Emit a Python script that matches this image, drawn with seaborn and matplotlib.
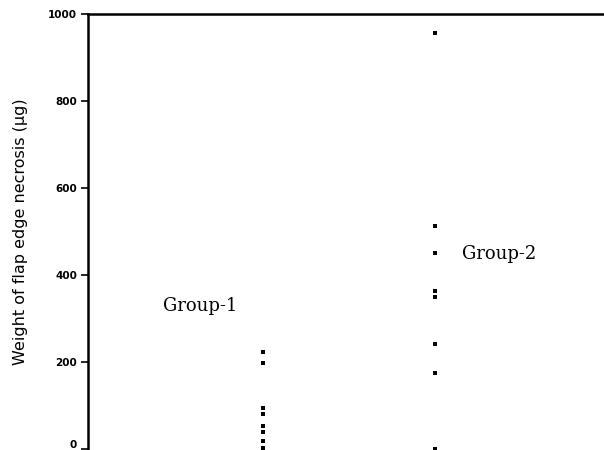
import matplotlib
matplotlib.use("Agg")
import matplotlib.pyplot as plt
import matplotlib.transforms as mtransforms
import seaborn as sns
import pandas as pd

groups = ["Group-1", "Group-2"]
group1_values = [223, 198, 94, 81, 53, 39, 18, 2]
group2_values = [957, 513, 451, 364, 350, 242, 175, 0]
y_ticks = [0, 200, 400, 600, 800, 1000]
y_label = "Weight of flap edge necrosis (µg)"

df = pd.DataFrame({
    "group": [groups[0]] * len(group1_values) + [groups[1]] * len(group2_values),
    "weight": group1_values + group2_values,
})

sns.set_style("white")
plt.rcParams["font.family"] = ["DejaVu Sans"]
plt.rcParams["text.color"] = "black"
plt.rcParams["axes.labelcolor"] = "black"
plt.rcParams["ytick.color"] = "black"

fig = plt.figure(figsize=(6.04, 4.5), dpi=100)
W, H = 604, 450
ax = fig.add_axes([88 / W, 1 / H, (604 - 88) / W, 435 / H])

sns.stripplot(data=df, x="group", y="weight", order=groups, jitter=False,
              marker="s", size=3, color="black", linewidth=0, ax=ax)

ax.set_xlim(-175 / 172, 1 + (604 - 435) / 172)
ax.set_ylim(0, 1000)
ax.set_yticks(y_ticks)
ax.set_yticklabels([str(t) for t in y_ticks], fontsize=7.5, fontweight="bold",
                   color="black")
ax.set_xticks([])
ax.set_xlabel("")
ax.set_ylabel(y_label, fontsize=11.5, labelpad=14, color="black")
ax.tick_params(axis="y", direction="out", length=5, width=1.2, color="black", pad=3,
               left=True)
for side in ["right", "bottom"]:
    ax.spines[side].set_visible(False)
for side in ["left", "top"]:
    ax.spines[side].set_visible(True)
    ax.spines[side].set_color("black")
    ax.spines[side].set_linewidth(1.8)

# lift the "0" label slightly so it stays inside the figure
zero_label = ax.get_yticklabels()[0]
zero_label.set_transform(zero_label.get_transform() +
                         mtransforms.ScaledTranslation(0, 5 / 100, fig.dpi_scale_trans))

ax.text((163 - 263) / 172, 318, groups[0], fontsize=13, family="DejaVu Serif",
        ha="left", va="baseline", color="black")
ax.text(1 + (462 - 435) / 172, 437, groups[1], fontsize=13, family="DejaVu Serif",
        ha="left", va="baseline", color="black")

fig.savefig("out.png", dpi=100)
